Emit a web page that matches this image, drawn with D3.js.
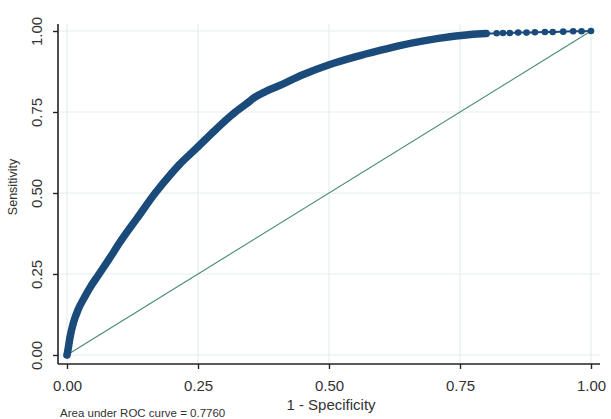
<!DOCTYPE html>
<html>
<head>
<meta charset="utf-8">
<script src="https://cdn.jsdelivr.net/npm/d3@7"></script>
<style>
  html, body { margin: 0; padding: 0; background: #fff; }
  svg { display: block; font-family: "Liberation Sans", Arial, sans-serif; }
</style>
</head>
<body>
<div id="chart"></div>
<script>
// ROC curve points (1 - specificity, sensitivity)
const rocFpr = [0, 0.001, 0.006, 0.012, 0.021, 0.034, 0.047, 0.060, 0.079, 0.104, 0.136, 0.168,
  0.2, 0.214, 0.235, 0.25, 0.28, 0.317, 0.343, 0.36, 0.375, 0.406, 0.45, 0.499, 0.55, 0.597,
  0.635, 0.686, 0.731, 0.77, 0.80,
  0.820, 0.832, 0.845, 0.861, 0.877, 0.893, 0.912, 0.927, 0.947, 0.966, 0.982, 1.0];
const rocTpr = [0, 0.008, 0.057, 0.098, 0.139, 0.180, 0.216, 0.247, 0.293, 0.355, 0.427, 0.499,
  0.562, 0.587, 0.62, 0.643, 0.69, 0.744, 0.776, 0.797, 0.81, 0.832, 0.865, 0.895, 0.92, 0.94,
  0.955, 0.971, 0.982, 0.989, 0.992,
  0.993, 0.994, 0.994, 0.995, 0.995, 0.996, 0.997, 0.997, 0.998, 0.999, 0.999, 1.0];
const denseUntil = 0.81; // above this the markers are drawn apart

const xTicks = [0, 0.25, 0.5, 0.75, 1];
const yTicks = [0, 0.25, 0.5, 0.75, 1];
const aucLabel = 'Area under ROC curve = 0.7760';

const width = 611, height = 419;
const navy = '#1b4b7a', green = '#458a6f', grid = '#e4eded';

const svg = d3.select('#chart').append('svg')
  .attr('width', width)
  .attr('height', height);

const x = d3.scaleLinear([0, 1], [67, 591]);
const y = d3.scaleLinear([0, 1], [355, 31]);
const plotLeft = 58, plotRight = 600, plotTop = 24, plotBottom = 364;

// gridlines
svg.append('g')
  .selectAll('line')
  .data(xTicks)
  .join('line')
    .attr('x1', d => x(d)).attr('x2', d => x(d))
    .attr('y1', plotTop).attr('y2', plotBottom)
    .attr('stroke', grid).attr('stroke-width', 1.2);

svg.append('g')
  .selectAll('line')
  .data(yTicks)
  .join('line')
    .attr('x1', plotLeft).attr('x2', plotRight)
    .attr('y1', d => y(d)).attr('y2', d => y(d))
    .attr('stroke', grid).attr('stroke-width', 1.2);

// axes
const xAxis = svg.append('g')
  .attr('transform', `translate(0,${plotBottom})`)
  .call(d3.axisBottom(x).tickValues(xTicks).tickFormat(d3.format('.2f')).tickSize(5).tickPadding(8));
xAxis.select('.domain').attr('d', `M${plotLeft},0H${plotRight}`);

const yAxis = svg.append('g')
  .attr('transform', `translate(${plotLeft},0)`)
  .call(d3.axisLeft(y).tickValues(yTicks).tickFormat(d3.format('.2f')).tickSize(5).tickPadding(8));
yAxis.select('.domain').attr('d', `M0,${plotTop}V${plotBottom}`);

[xAxis, yAxis].forEach(a => {
  a.select('.domain').attr('stroke', '#222').attr('stroke-width', 1.6);
  a.selectAll('.tick line').attr('stroke', '#222').attr('stroke-width', 1.4);
  a.selectAll('.tick text').attr('fill', '#333').style('font-size', '15px');
});

xAxis.selectAll('.tick text').attr('dy', '0.95em');

yAxis.selectAll('.tick text')
  .attr('text-anchor', 'middle')
  .attr('x', null).attr('dy', null)
  .attr('transform', 'translate(-16,0) rotate(-90)');

// reference diagonal
svg.append('line')
  .attr('x1', x(0)).attr('y1', y(0))
  .attr('x2', x(1)).attr('y2', y(1))
  .attr('stroke', green).attr('stroke-width', 1.1);

// ROC curve
const pts = rocFpr.map((f, i) => ({fpr: f, tpr: rocTpr[i]}));
const line = d3.line().x(d => x(d.fpr)).y(d => y(d.tpr)).curve(d3.curveMonotoneX);

svg.append('path')
  .datum(pts.filter(d => d.fpr <= denseUntil))
  .attr('d', line)
  .attr('fill', 'none')
  .attr('stroke', navy)
  .attr('stroke-width', 7.5)
  .attr('stroke-linecap', 'round')
  .attr('stroke-linejoin', 'round');

svg.append('path')
  .datum(pts)
  .attr('d', line)
  .attr('fill', 'none')
  .attr('stroke', navy)
  .attr('stroke-width', 2);

svg.append('g')
  .selectAll('circle')
  .data(pts)
  .join('circle')
    .attr('cx', d => x(d.fpr))
    .attr('cy', d => y(d.tpr))
    .attr('r', 3.3)
    .attr('fill', navy);

// titles
svg.append('text')
  .attr('x', 331).attr('y', 410)
  .attr('text-anchor', 'middle')
  .attr('fill', '#333')
  .style('font-size', '15px')
  .text('1 - Specificity');

svg.append('text')
  .attr('transform', 'translate(17,187) rotate(-90)')
  .attr('text-anchor', 'middle')
  .attr('fill', '#333')
  .style('font-size', '12.5px')
  .text('Sensitivity');

svg.append('text')
  .attr('x', 60).attr('y', 417)
  .attr('fill', '#333')
  .style('font-size', '11.5px')
  .text(aucLabel);
</script>
</body>
</html>
